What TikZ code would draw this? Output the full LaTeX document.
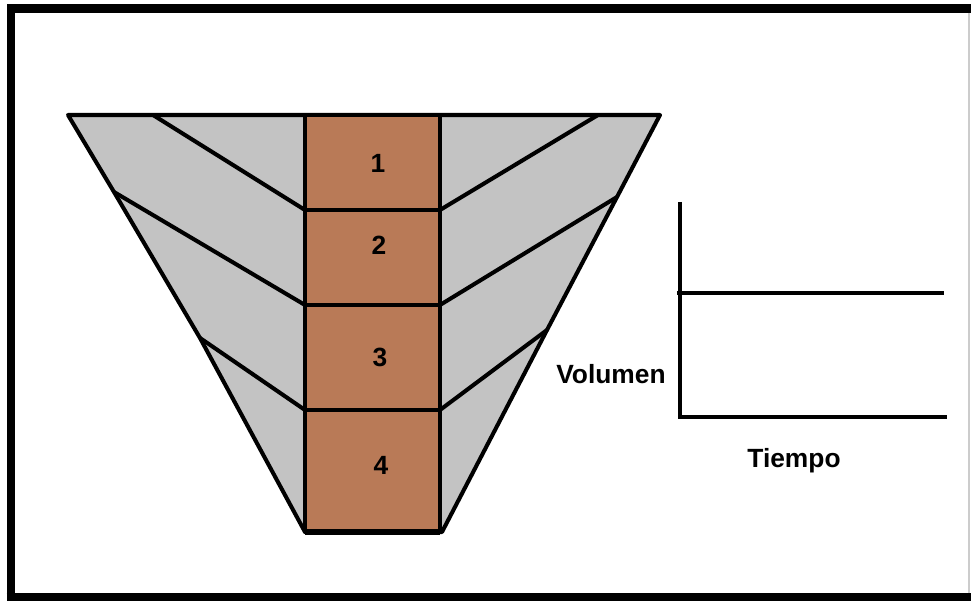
\documentclass[tikz,border=0pt]{standalone}
\usepackage{fontspec}
\setmainfont{Liberation Sans}
\definecolor{paintgray}{RGB}{195,195,195}
\definecolor{paintbrown}{RGB}{185,122,87}
\tikzset{
  edge/.style={line width=2.3pt, line join=round},
  frameline/.style={line width=4.6pt},
  lbl/.style={font=\bfseries\fontsize{15}{18}\selectfont, inner sep=0pt, anchor=base},
}
\begin{document}
\begin{tikzpicture}[x=0.02cm, y=-0.02cm]
  \useasboundingbox (0,0) rectangle (971,601);

  % Outer frame
  \draw[frameline] (11,601) -- (11,8.5) -- (971,8.5);
  \draw[frameline] (6.5,597) -- (971,597);
  \draw[gray!40, line width=1pt] (969,13) -- (969,593);

  % Funnel outline (gray)
  \coordinate (tl) at (68,115);
  \coordinate (tr) at (660,115);
  \coordinate (bl) at (305,532);
  \coordinate (br) at (442,532);
  \draw[edge, fill=paintgray]
  (tl) -- (tr)
  -- (617,197) -- (547,330) -- (br)
  -- (bl)
  -- (200,338) -- (114,192)
  -- cycle;

  % Central column
  \draw[edge, fill=paintbrown] (305,115) rectangle (440,532);
  \draw[edge] (305,210) -- (440,210);
  \draw[edge] (305,305) -- (440,305);
  \draw[edge] (305,410) -- (440,410);
  \draw[line width=3.2pt] (305,532) -- (440,532);

  % Layer lines, left side
  \draw[edge] (153,115) -- (305,210);
  \draw[edge] (114,192) -- (305,305);
  \draw[edge] (200,338) -- (305,410);

  % Layer lines, right side
  \draw[edge] (598,115) -- (440,210);
  \draw[edge] (617,197) -- (440,305);
  \draw[edge] (547,330) -- (440,410);

  % Layer numbers
  \node[lbl] (n1) at (378,173) {1};
  \node[lbl] (n2) at (379,255) {2};
  \node[lbl] (n3) at (380,367) {3};
  \node[lbl] (n4) at (381,475) {4};

  % Volume vs time plot
  \coordinate (ytop) at (680,202);
  \coordinate (orig) at (680,417);
  \coordinate (xend) at (947,417);
  \draw[edge, line join=miter] (ytop) -- (orig) -- (xend);
  \draw[edge] (677,293) -- (944,293);
  \node[lbl, anchor=base east] (vol) at (666,384) {Volumen};
  \node[lbl] (tie) at (794,467) {Tiempo};

\end{tikzpicture}
\end{document}
